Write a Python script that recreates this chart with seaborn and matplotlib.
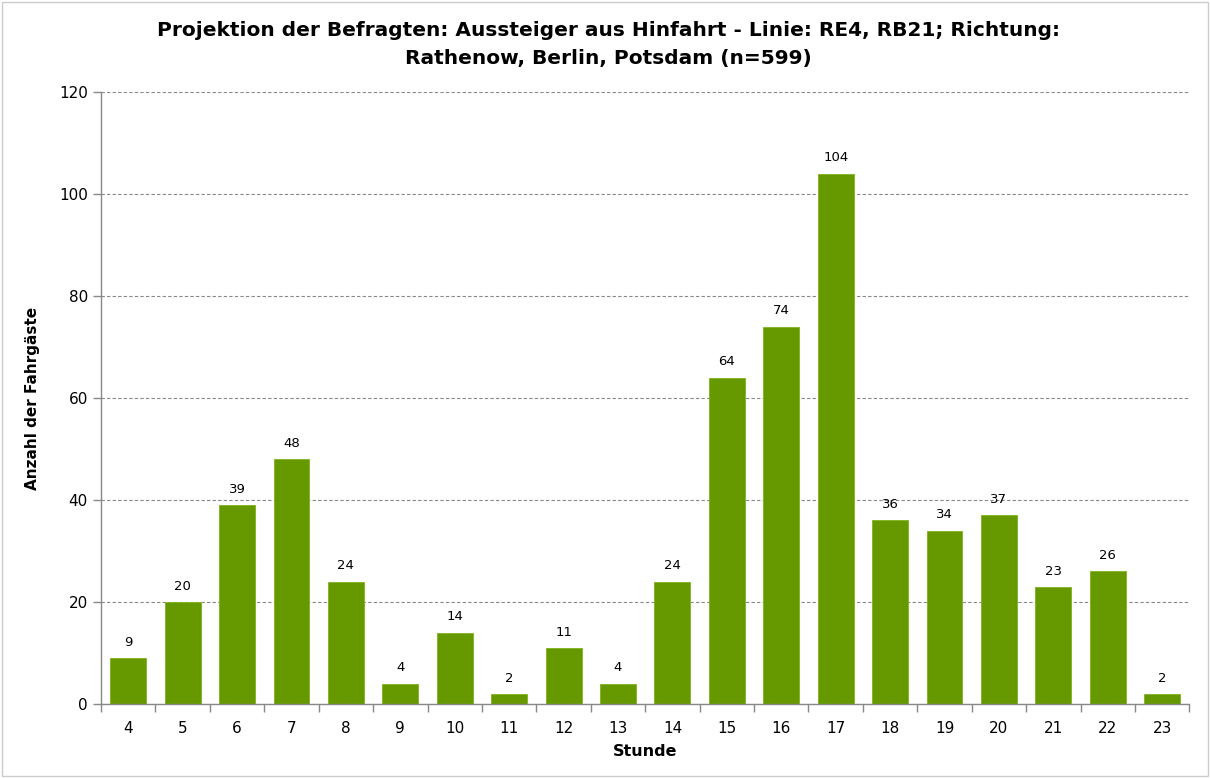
import numpy as np
import pandas as pd
import seaborn as sns
import matplotlib.pyplot as plt
from matplotlib.ticker import FixedLocator

# chart data
hours = [4, 5, 6, 7, 8, 9, 10, 11, 12, 13, 14, 15, 16, 17, 18, 19, 20, 21, 22, 23]
counts = [9, 20, 39, 48, 24, 4, 14, 2, 11, 4, 24, 64, 74, 104, 36, 34, 37, 23, 26, 2]

df = pd.DataFrame({'Stunde': [str(h) for h in hours], 'Anzahl': counts})

sns.set_style('white')
plt.rcParams['font.family'] = ['DejaVu Sans']
plt.rcParams['text.color'] = 'black'
plt.rcParams['axes.labelcolor'] = 'black'
plt.rcParams['xtick.color'] = 'black'
plt.rcParams['ytick.color'] = 'black'

fig = plt.figure(figsize=(12.1, 7.78), dpi=100)
ax = fig.add_axes([0.0835, 0.0951, 0.8995, 0.7866])

sns.barplot(data=df, x='Stunde', y='Anzahl', color='#669900', width=0.66,
            saturation=1, edgecolor='#7fb31a', linewidth=0.6, ax=ax)

# labels above bars
for i, v in enumerate(counts):
    ax.text(i, v + 1.8, str(v), ha='center', va='bottom', fontsize=9.5, color='black')

ax.set_ylim(0, 120)
ax.set_xlim(-0.5, len(hours) - 0.5)
ax.set_yticks(range(0, 121, 20))
ax.yaxis.grid(True, linestyle=(0, (3, 2)), color='#888888', linewidth=0.8)
ax.set_axisbelow(True)

# ticks between categories
ax.xaxis.set_minor_locator(FixedLocator(np.arange(-0.5, len(hours), 1)))
ax.tick_params(axis='x', which='major', length=0, labelsize=11, pad=12)
ax.tick_params(axis='x', which='minor', bottom=True, length=6, width=1,
               color='#888888', direction='out')
ax.tick_params(axis='y', length=6, width=1, color='#888888', labelsize=11,
               direction='out', left=True)

for s in ['top', 'right']:
    ax.spines[s].set_visible(False)
for s in ['left', 'bottom']:
    ax.spines[s].set_color('#888888')
    ax.spines[s].set_linewidth(1)

ax.set_xlabel('Stunde', fontsize=11.5, fontweight='bold', labelpad=6)
ax.set_ylabel('Anzahl der Fahrgäste', fontsize=11, fontweight='bold', labelpad=14)

# title is centred on the whole figure
fig.text(0.503, 0.913, 'Projektion der Befragten: Aussteiger aus Hinfahrt - Linie: RE4, RB21; Richtung:\n'
         'Rathenow, Berlin, Potsdam (n=599)', ha='center', va='bottom',
         fontsize=14.5, fontweight='bold', linespacing=1.6)

# light border around figure
fig.patches.append(plt.Rectangle((0.002, 0.002), 0.996, 0.996, transform=fig.transFigure,
                                 fill=False, edgecolor='#cccccc', linewidth=1))

fig.savefig('out.png', dpi=100)
